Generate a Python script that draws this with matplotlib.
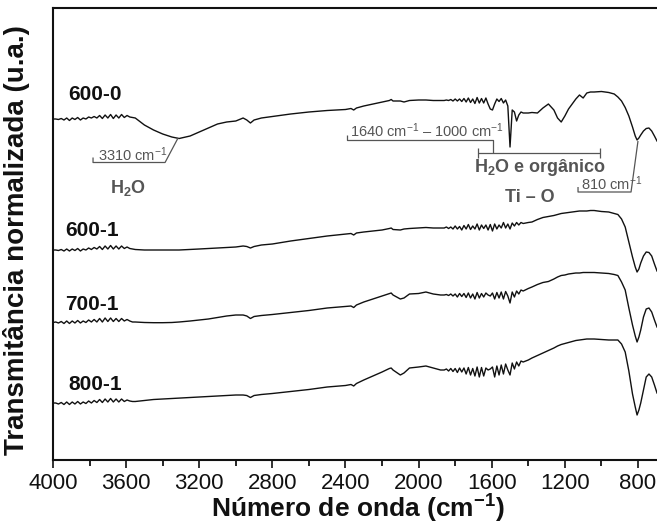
"""FTIR spectra of the TiO2 samples (600-0, 600-1, 700-1, 800-1), stacked."""
import matplotlib
matplotlib.use("Agg")
import matplotlib.pyplot as plt
from matplotlib.ticker import MultipleLocator

plt.rcParams["font.family"] = ["Liberation Sans", "DejaVu Sans"]
plt.rcParams["mathtext.fontset"] = "custom"
plt.rcParams["mathtext.rm"] = "Liberation Sans"
plt.rcParams["mathtext.it"] = "Liberation Sans:italic"
plt.rcParams["mathtext.bf"] = "Liberation Sans:bold"

INK = "#111111"
GREY = "#555555"

# ---- data: wavenumber grid (cm-1) and stacked, normalised transmittance (u.a.) ----
wavenumber = [
    # 4000-3550 (instrument ripple)
    4000, 3985, 3970, 3955, 3940, 3925, 3910, 3895, 3880, 3865,
    3850, 3835, 3820, 3805, 3790, 3775, 3760, 3745, 3730, 3715,
    3700, 3685, 3670, 3655, 3640, 3625, 3610, 3595, 3580, 3565, 3550,
    # 3500-1880
    3500, 3450, 3400, 3350, 3310, 3250, 3200, 3150, 3100, 3050,
    3000, 2960, 2940, 2920, 2900, 2860, 2800, 2700, 2600, 2500,
    2400, 2370, 2355, 2340, 2300, 2250, 2200, 2160, 2150, 2140,
    2100, 2080, 2050, 2000, 1960, 1920, 1880,
    # 1860-1428 (ripple / organic region)
    1860, 1848, 1836, 1824, 1812, 1800, 1788, 1776, 1764, 1752,
    1740, 1728, 1716, 1704, 1692, 1680, 1668, 1656, 1644, 1632,
    1620, 1608, 1596, 1584, 1572, 1560, 1548, 1536, 1524, 1512,
    1500, 1488, 1476, 1464, 1452, 1440, 1428,
    # 1400-696 (Ti-O band)
    1400, 1380, 1350, 1320, 1290, 1260, 1240, 1220, 1200, 1180,
    1160, 1140, 1120, 1100, 1080, 1060, 1040, 1000, 960, 930,
    910, 890, 870, 850, 830, 815, 805, 795, 785, 770,
    755, 740, 725, 710, 696,
]

t_600_0 = [
    341, 341, 340.5, 341.5, 340, 342, 339.5, 342, 340.5, 342.5,
    340, 342, 341, 343, 342, 343.5, 342, 344.5, 341.5, 345,
    342, 345.5, 341.5, 345, 342, 345.5, 342.5, 344.5, 343, 342.5, 342,
    335, 330, 326, 323, 321.5, 324, 328, 332, 336, 338,
    339, 342, 340, 337, 340, 342, 343.5, 346, 348, 349.5,
    350.5, 351.5, 350, 352, 354, 356, 358, 359.5, 360.5, 359,
    359, 358, 359.5, 360, 360, 359.5, 359.5,
    359.5, 360, 359.5, 360.5, 359, 361, 359, 361, 358.5, 361.5,
    358, 362, 357.5, 361, 356.5, 362.5, 357, 361.5, 357, 362,
    356, 351, 350, 356, 361, 358.5, 361.5, 357, 360, 354,
    313, 350, 348, 339, 345, 348, 347,
    347, 347.5, 347, 352, 356, 350, 342, 338, 344, 351,
    356, 361, 365, 362, 367, 368, 368, 368.5, 367.5, 366,
    363, 359, 352.5, 344, 333, 324, 320, 322, 325, 329,
    331.5, 332, 329, 324, 319,
]

t_600_1 = [
    210, 210, 209.5, 210.5, 209, 211, 209, 211, 209.5, 211.5,
    209, 211, 210, 212, 210.5, 212.5, 211, 213.5, 210.5, 214,
    211, 214.5, 211, 214, 211, 214, 211.5, 213, 211.5, 211, 210.5,
    210, 210, 210, 210, 210, 210.5, 211, 211.5, 212, 212.5,
    213, 214, 213.5, 212, 213.5, 215, 216, 219, 221.5, 224,
    226, 226.5, 225, 227, 228, 229, 230, 231.5, 232, 230.5,
    230, 231, 231.5, 232, 232.5, 232, 232,
    232, 233, 231.5, 233, 231, 234, 231, 233.5, 230, 234.5,
    231, 235.5, 230.5, 234, 231, 236, 230, 235, 231.5, 235,
    230, 235.5, 229, 236, 231, 235, 232, 237.5, 232, 236,
    231, 237, 234, 237.5, 235, 237.5, 236.5,
    237.5, 238, 240.5, 242.5, 243.5, 244.5, 245.5, 246.5, 247, 247.5,
    248, 248.5, 249, 249, 249, 249.5, 249.5, 248.5, 248, 246.5,
    245.5, 241, 233, 218, 203, 193, 188, 191, 197, 204,
    208, 207.5, 204, 196, 189,
]

t_700_1 = [
    137.5, 138, 137, 138.5, 136.5, 139, 136.5, 139, 137, 139.5,
    137, 139, 137.5, 140, 138, 140.5, 138, 141.5, 138, 142,
    138.5, 142, 138.5, 141.5, 138.5, 141.5, 139, 140.5, 139, 138, 138,
    137.5, 137.3, 137.3, 137.5, 138, 139, 140, 141, 142.5, 144,
    145, 145, 144, 141.5, 143.5, 144.5, 145.5, 147.5, 149.5, 152,
    153.5, 154, 152.5, 155, 158, 161, 164, 166.5, 167, 165,
    161, 162, 166, 166.5, 168, 166, 165,
    165, 165.5, 164.5, 166, 164, 166, 163, 166.5, 163.5, 166.5,
    162.5, 167, 162, 166, 161, 167.5, 162, 166.5, 163, 167,
    165, 164, 167, 161, 167.5, 162, 168, 161, 168.5, 164,
    157, 168, 163, 169, 166, 170, 169,
    171.5, 173, 175.5, 177.5, 178.5, 181, 183, 184.5, 185, 186,
    186.5, 187, 187, 187.5, 187.5, 187.5, 187.5, 187, 186.5, 185.5,
    184.5, 178, 170, 152, 135, 124, 118, 123, 130, 143,
    151, 152, 148, 140, 133,
]

t_800_1 = [
    57, 57, 56, 57.5, 55.5, 58, 55.5, 58, 56, 58.5,
    56, 58, 56.5, 59, 57, 59.5, 57.5, 60.5, 57.5, 61,
    58, 61.5, 58, 61, 58, 61, 58.5, 60, 59, 58.5, 58.5,
    59.5, 60.5, 61, 61.5, 62, 62.5, 63, 63.5, 64, 64.5,
    65, 65, 64.5, 62.5, 64.5, 65.5, 66.5, 68.5, 70.5, 73,
    74.5, 75.5, 74, 76.5, 80, 84, 88, 91.5, 92, 90,
    85, 87, 92, 93, 94, 92, 90,
    90, 91, 89, 91.5, 88.5, 91.5, 87.5, 92, 88, 92,
    86, 92.5, 85, 91.5, 84, 93, 83, 92.5, 84, 92,
    90, 91, 93, 83, 94, 85, 95, 86, 96, 90,
    85, 97, 91, 98, 94, 99, 98,
    100, 102, 104.5, 107, 109.5, 112, 114, 115.5, 116.5, 117.5,
    118.5, 119.5, 120, 120.5, 121, 121, 121, 120.5, 120, 120,
    120, 116, 108, 89, 66, 53, 45, 50, 57, 70,
    83, 86, 83, 75, 67,
]

sample_names = ["600-0", "600-1", "700-1", "800-1"]
label_pos = [(3918, 365), (3934, 230), (3934, 155), (3918, 75)]

xticks = [4000, 3600, 3200, 2800, 2400, 2000, 1600, 1200, 800]

# ---- figure ----
fig = plt.figure(figsize=(6.57, 5.28), dpi=100)
ax = fig.add_axes([53 / 657, 68 / 528, 604 / 657, 452.5 / 528])

for t in (t_600_0, t_600_1, t_700_1, t_800_1):
    ax.plot(wavenumber, t, color=INK, lw=1.0)

for name, (x, y) in zip(sample_names, label_pos):
    ax.text(x, y, name, fontsize=15, fontweight="bold", color=INK,
            ha="left", va="center")

# annotations
ann = dict(color=GREY, lw=0.9, solid_capstyle="butt")
# O-H stretch of water
ax.plot([3316, 3387, 3781, 3781], [322, 297.5, 297.5, 302.5], **ann)
ax.text(3754, 299.5, "3310 cm$^{-1}$", fontsize=10.5, color=GREY,
        ha="left", va="baseline")
ax.text(3590, 272, "H$_\\mathbf{2}$O", fontsize=13, fontweight="bold",
        color=GREY, ha="center", va="center")

# water bending + organics
ax.plot([2392, 2392, 1593, 1593], [325, 320, 320, 307], **ann)
ax.plot([1675, 1008], [307, 307], **ann)
ax.plot([1675, 1675], [302, 312], **ann)
ax.plot([1008, 1008], [302, 312], **ann)
ax.text(2375, 322.5, "1640 cm$^{-1}$ – 1000 cm$^{-1}$", fontsize=10.5,
        color=GREY, ha="left", va="baseline")
ax.text(1336, 293, "H$_\\mathbf{2}$O e orgânico", fontsize=13,
        fontweight="bold", color=GREY, ha="center", va="center")

# Ti-O band
ax.plot([800, 838, 1128, 1128], [319, 268, 268, 273], **ann)
ax.text(1112, 270, "810 cm$^{-1}$", fontsize=10.5, color=GREY,
        ha="left", va="baseline")
ax.text(1391, 263, "Ti – O", fontsize=13, fontweight="bold", color=GREY,
        ha="center", va="center")

# axes styling
ax.set_xlim(4000, 696)
ax.set_ylim(0, 452.5)
ax.set_xticks(xticks)
ax.xaxis.set_minor_locator(MultipleLocator(200))
ax.set_yticks([])
ax.tick_params(axis="x", which="major", direction="out", length=6, width=1.2,
               pad=3.5, labelsize=16, colors=INK)
ax.tick_params(axis="x", which="minor", direction="out", length=4, width=1.2)
for side in ("left", "bottom", "top"):
    ax.spines[side].set_linewidth(1.5)
    ax.spines[side].set_color(INK)
ax.spines["right"].set_visible(False)

ax.set_xlabel("Número de onda (cm$^{\\mathbf{-1}}$)", fontsize=19,
              fontweight="bold", color=INK)
ax.xaxis.set_label_coords(0.505, -0.108)
ax.xaxis.label.set_va("center")
ax.set_ylabel("Transmitância normalizada (u.a.)", fontsize=20,
              fontweight="bold", color=INK)
ax.yaxis.set_label_coords(-0.061, 0.486)
ax.yaxis.label.set_va("center")

fig.savefig("out.png", dpi=100)
